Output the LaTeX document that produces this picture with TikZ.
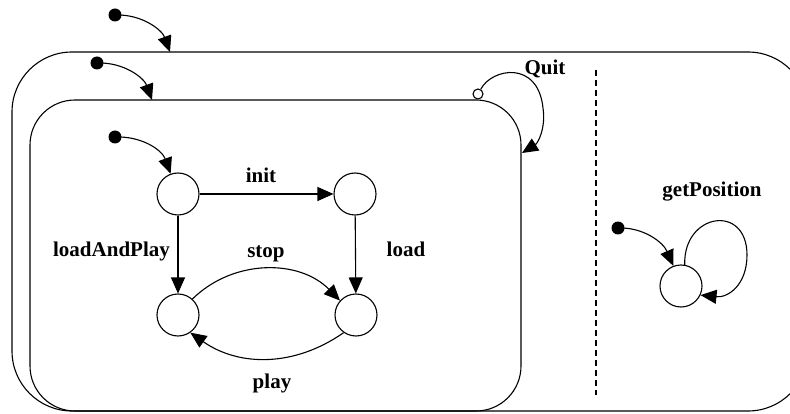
\documentclass[tikz,border=0pt]{standalone}
\usepackage{fontspec}
\setmainfont{Liberation Serif}
\usetikzlibrary{arrows.meta}
\begin{document}
\begin{tikzpicture}[x=1pt,y=-1pt,
  line width=1.1pt,
  st/.style={draw,circle,minimum size=42pt,inner sep=0pt},
  initdot/.style={fill,circle,minimum size=13pt,inner sep=0pt},
  tr/.style={-{Triangle[length=16pt,width=14pt]}},
  lbl/.style={anchor=base,inner sep=0pt,font=\fontsize{21}{24}\selectfont\bfseries},
  box/.style={draw}
]
\useasboundingbox (0,0) rectangle (790,414);
\clip (0,0) rectangle (790,414);
% boxes
\draw[box,rounded corners=60pt] (12,52) rectangle (808,411);
\draw[box,rounded corners=45pt] (30,100) rectangle (521,411);
\coordinate (outertop) at (170,52);
\coordinate (innertop) at (152,100);
\coordinate (quitend) at (522,153);
% dashed separator
\draw[dash pattern=on 6pt off 4pt] (596,70) -- (596,395);
% states
\node[st] (s1) at (178,194) {};
\node[st] (s2) at (355,194) {};
\node[st] (s3) at (178,315) {};
\node[st] (s4) at (356,315) {};
\node[st] (s5) at (681,286) {};
% initial dots
\node[initdot] (i1) at (115,15) {};
\node[initdot] (i2) at (97,63) {};
\node[initdot] (i3) at (115,137) {};
\node[initdot] (i4) at (618,228) {};
% exit small circle
\node[draw,circle,fill=white,minimum size=10pt,inner sep=0pt] (q) at (478,94) {};
% initial transitions
\draw[tr] (i1.center) .. controls (142,14) and (162,30) .. (outertop);
\draw[tr] (i2.center) .. controls (124,62) and (144,78) .. (innertop);
\draw[tr] (i3.center) .. controls (142,136) and (162,150) .. (s1.110);
\draw[tr] (i4.center) .. controls (643,227) and (663,242) .. (s5.111);
% transitions
\draw[tr] (s1) -- (s2);
\draw[tr] (s1) -- (s3);
\draw[tr] (s2) -- (s4);
\draw[tr] (s3.48) to[bend left=45] (s4.138);
\draw[tr] (s4.235) to[bend left=35] (s3.-55);
\draw[tr] (q.60) .. controls (492,68) and (538,60) .. (543,108) .. controls (546,128) and (538,143) .. (quitend);
\draw[tr] (s5.80) .. controls (683,213) and (747,203) .. (747,255) .. controls (747,285) and (728,298) .. (s5.-25);
% labels
\node[lbl] (linit) at (261,183) {init};
\node[lbl] (llap) at (111.5,257) {loadAndPlay};
\node[lbl] (lstop) at (266,258) {stop};
\node[lbl] (lload) at (406,257) {load};
\node[lbl] (lplay) at (272,388) {play};
\node[lbl] (lquit) at (545,75) {Quit};
\node[lbl] (lgp) at (712,197) {getPosition};
\end{tikzpicture}
\end{document}
